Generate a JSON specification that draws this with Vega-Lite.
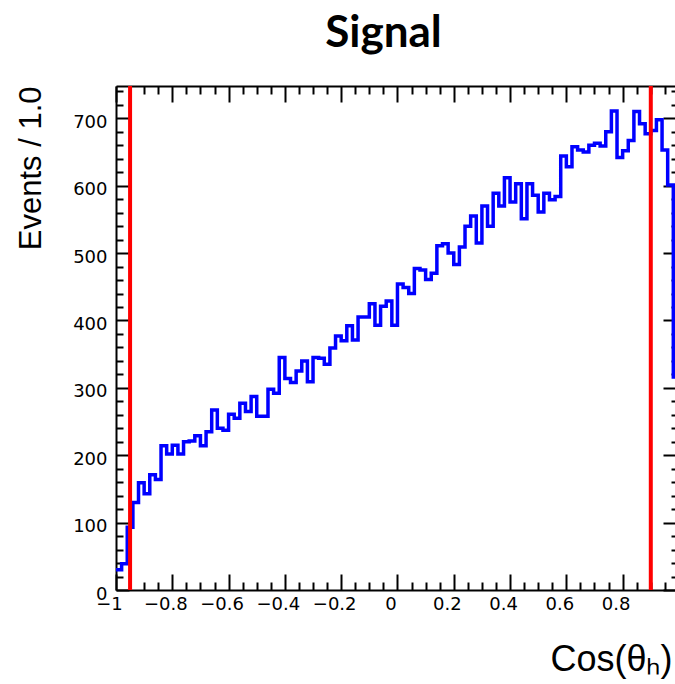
{
  "$schema": "https://vega.github.io/schema/vega-lite/v6.json",
  "width": 559,
  "height": 504,
  "autosize": {"type": "none"},
  "padding": {"left": 116, "top": 86, "right": 0, "bottom": 94},
  "background": "white",
  "title": {
    "text": "Signal",
    "font": "Lato",
    "fontWeight": "bold",
    "fontSize": 44,
    "color": "black",
    "anchor": "middle",
    "frame": "group",
    "baseline": "alphabetic",
    "offset": -7,
    "dx": -12
  },
  "config": {
    "view": {"stroke": null},
    "axis": {
      "grid": false,
      "zindex": 1,
      "domainColor": "black",
      "domainWidth": 2,
      "tickColor": "black",
      "tickWidth": 2,
      "labelColor": "black",
      "labelFont": "DejaVu Sans",
      "labelFontSize": 18,
      "labelFlush": false,
      "labelOverlap": false,
      "titleColor": "black",
      "titleFont": "Liberation Sans",
      "titleFontWeight": "normal"
    }
  },
  "data": {
    "values": [
      {"lo": -1, "n": 30}, {"lo": -0.98, "n": 39}, {"lo": -0.96, "n": 93}, {"lo": -0.94, "n": 130},
      {"lo": -0.92, "n": 159}, {"lo": -0.9, "n": 143}, {"lo": -0.88, "n": 171}, {"lo": -0.86, "n": 164},
      {"lo": -0.84, "n": 214}, {"lo": -0.82, "n": 202}, {"lo": -0.8, "n": 215}, {"lo": -0.78, "n": 202},
      {"lo": -0.76, "n": 220}, {"lo": -0.74, "n": 221}, {"lo": -0.72, "n": 229}, {"lo": -0.7, "n": 214},
      {"lo": -0.68, "n": 235}, {"lo": -0.66, "n": 267}, {"lo": -0.64, "n": 240}, {"lo": -0.62, "n": 237},
      {"lo": -0.6, "n": 261}, {"lo": -0.58, "n": 255}, {"lo": -0.56, "n": 277}, {"lo": -0.54, "n": 265},
      {"lo": -0.52, "n": 287}, {"lo": -0.5, "n": 258}, {"lo": -0.48, "n": 258}, {"lo": -0.46, "n": 298},
      {"lo": -0.44, "n": 292}, {"lo": -0.42, "n": 345}, {"lo": -0.4, "n": 314}, {"lo": -0.38, "n": 308},
      {"lo": -0.36, "n": 325}, {"lo": -0.34, "n": 340}, {"lo": -0.32, "n": 309}, {"lo": -0.3, "n": 345},
      {"lo": -0.28, "n": 344}, {"lo": -0.26, "n": 335}, {"lo": -0.24, "n": 359}, {"lo": -0.22, "n": 377},
      {"lo": -0.2, "n": 370}, {"lo": -0.18, "n": 392}, {"lo": -0.16, "n": 371}, {"lo": -0.14, "n": 405},
      {"lo": -0.12, "n": 405}, {"lo": -0.1, "n": 425}, {"lo": -0.08, "n": 393}, {"lo": -0.06, "n": 421},
      {"lo": -0.04, "n": 429}, {"lo": -0.02, "n": 393}, {"lo": 0, "n": 454}, {"lo": 0.02, "n": 449},
      {"lo": 0.04, "n": 440}, {"lo": 0.06, "n": 477}, {"lo": 0.08, "n": 475}, {"lo": 0.1, "n": 461},
      {"lo": 0.12, "n": 470}, {"lo": 0.14, "n": 511}, {"lo": 0.16, "n": 514}, {"lo": 0.18, "n": 500},
      {"lo": 0.2, "n": 483}, {"lo": 0.22, "n": 509}, {"lo": 0.24, "n": 540}, {"lo": 0.26, "n": 555},
      {"lo": 0.28, "n": 515}, {"lo": 0.3, "n": 570}, {"lo": 0.32, "n": 540}, {"lo": 0.34, "n": 589},
      {"lo": 0.36, "n": 570}, {"lo": 0.38, "n": 612}, {"lo": 0.4, "n": 576}, {"lo": 0.42, "n": 603},
      {"lo": 0.44, "n": 551}, {"lo": 0.46, "n": 603}, {"lo": 0.48, "n": 586}, {"lo": 0.5, "n": 561},
      {"lo": 0.52, "n": 589}, {"lo": 0.54, "n": 579}, {"lo": 0.56, "n": 584}, {"lo": 0.58, "n": 644},
      {"lo": 0.6, "n": 628}, {"lo": 0.62, "n": 658}, {"lo": 0.64, "n": 653}, {"lo": 0.66, "n": 650},
      {"lo": 0.68, "n": 660}, {"lo": 0.7, "n": 663}, {"lo": 0.72, "n": 659}, {"lo": 0.74, "n": 680},
      {"lo": 0.76, "n": 711}, {"lo": 0.78, "n": 642}, {"lo": 0.8, "n": 652}, {"lo": 0.82, "n": 667},
      {"lo": 0.84, "n": 710}, {"lo": 0.86, "n": 692}, {"lo": 0.88, "n": 677}, {"lo": 0.9, "n": 682},
      {"lo": 0.92, "n": 698}, {"lo": 0.94, "n": 653}, {"lo": 0.96, "n": 601}, {"lo": 0.98, "n": 316},
      {"lo": 1.0, "n": 316}
    ]
  },
  "layer": [
    {
      "mark": {"type": "line", "interpolate": "step-after", "color": "#0000ff", "strokeWidth": 3.5, "strokeJoin": "miter", "strokeCap": "square", "clip": true},
      "encoding": {
        "x": {
          "field": "lo", "type": "quantitative",
          "scale": {"domain": [-1, 0.986], "nice": false, "zero": false},
          "axis": {"orient": "bottom", "values": [-1, -0.8, -0.6, -0.4, -0.2, 0, 0.2, 0.4, 0.6, 0.8, 1], "tickSize": -16, "labels": false, "domain": true, "title": null}
        },
        "y": {
          "field": "n", "type": "quantitative",
          "scale": {"domain": [0, 748], "nice": false, "zero": true},
          "axis": {"orient": "left", "values": [0, 100, 200, 300, 400, 500, 600, 700], "tickSize": -13, "labels": false, "domain": true, "title": null}
        }
      }
    },
    {
      "mark": {"type": "point", "opacity": 0},
      "encoding": {
        "x": {
          "field": "lo", "type": "quantitative",
          "axis": {
            "orient": "bottom", "values": [-1, -0.8, -0.6, -0.4, -0.2, 0, 0.2, 0.4, 0.6, 0.8, 1],
            "ticks": false, "domain": false, "format": "~g", "labelPadding": 5, "labelOffset": -7,
            "title": "Cos(θₕ)", "titleFontSize": 36, "titleAnchor": "end", "titleAlign": "right",
            "titleBaseline": "alphabetic", "titleX": 556, "titleY": 80
          }
        },
        "y": {
          "field": "n", "type": "quantitative",
          "axis": {
            "orient": "left", "values": [0, 100, 200, 300, 400, 500, 600, 700],
            "ticks": false, "domain": false, "format": "d", "labelPadding": 9, "labelOffset": 4,
            "title": "Events / 1.0", "titleFontSize": 31, "titleAngle": -90, "titleAlign": "right",
            "titleBaseline": "alphabetic", "titleX": -76, "titleY": 0
          }
        }
      }
    },
    {
      "mark": {"type": "point", "opacity": 0},
      "encoding": {
        "x": {
          "field": "lo", "type": "quantitative",
          "axis": {"orient": "bottom", "values": [-0.95, -0.9, -0.85, -0.75, -0.7, -0.65, -0.55, -0.5, -0.45, -0.35, -0.3, -0.25, -0.15, -0.1, -0.05, 0.05, 0.1, 0.15, 0.25, 0.3, 0.35, 0.45, 0.5, 0.55, 0.65, 0.7, 0.75, 0.85, 0.9, 0.95], "tickSize": -8, "labels": false, "domain": false, "title": null}
        },
        "y": {
          "field": "n", "type": "quantitative",
          "axis": {"orient": "left", "values": [20, 40, 60, 80, 120, 140, 160, 180, 220, 240, 260, 280, 320, 340, 360, 380, 420, 440, 460, 480, 520, 540, 560, 580, 620, 640, 660, 680, 720, 740], "tickSize": -7, "labels": false, "domain": false, "title": null}
        }
      }
    },
    {
      "mark": {"type": "point", "opacity": 0},
      "encoding": {
        "x": {
          "field": "lo", "type": "quantitative",
          "axis": {"orient": "top", "values": [-1, -0.8, -0.6, -0.4, -0.2, 0, 0.2, 0.4, 0.6, 0.8, 1], "tickSize": -16, "labels": false, "domain": true, "title": null}
        },
        "y": {
          "field": "n", "type": "quantitative",
          "axis": {"orient": "right", "values": [0, 100, 200, 300, 400, 500, 600, 700], "tickSize": -12, "labels": false, "domain": false, "title": null}
        }
      }
    },
    {
      "mark": {"type": "point", "opacity": 0},
      "encoding": {
        "x": {
          "field": "lo", "type": "quantitative",
          "axis": {"orient": "top", "values": [-0.95, -0.9, -0.85, -0.75, -0.7, -0.65, -0.55, -0.5, -0.45, -0.35, -0.3, -0.25, -0.15, -0.1, -0.05, 0.05, 0.1, 0.15, 0.25, 0.3, 0.35, 0.45, 0.5, 0.55, 0.65, 0.7, 0.75, 0.85, 0.9, 0.95], "tickSize": -8, "labels": false, "domain": false, "title": null}
        },
        "y": {
          "field": "n", "type": "quantitative",
          "axis": {"orient": "right", "values": [20, 40, 60, 80, 120, 140, 160, 180, 220, 240, 260, 280, 320, 340, 360, 380, 420, 440, 460, 480, 520, 540, 560, 580, 620, 640, 660, 680, 720, 740], "tickSize": -4, "labels": false, "domain": false, "title": null}
        }
      }
    },
    {
      "data": {"values": [{"cut": -0.95}, {"cut": 0.9}]},
      "mark": {"type": "rule", "color": "#ff0000", "strokeWidth": 4},
      "encoding": {
        "x": {"field": "cut", "type": "quantitative", "axis": null}
      }
    }
  ],
  "resolve": {"axis": {"x": "independent", "y": "independent"}}
}
